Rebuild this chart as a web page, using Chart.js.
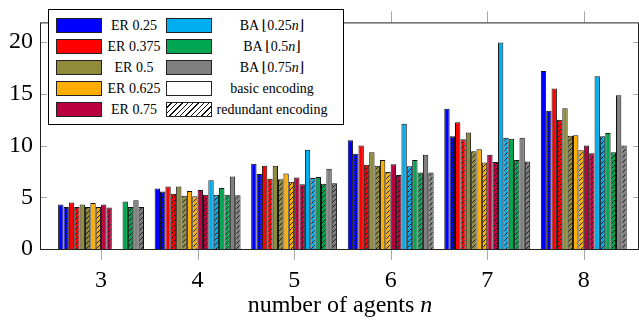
<!DOCTYPE html>
<html>
<head>
<meta charset="utf-8">
<script src="https://cdn.jsdelivr.net/npm/chart.js@4.4.0/dist/chart.umd.min.js"></script>
<style>
  body { margin: 0; background: #fff; }
  #wrap { position: relative; width: 639px; height: 323px; font-family: 'Liberation Serif', 'DejaVu Serif', serif; }
  #legend { position: absolute; left: 48px; top: 9px; width: 296px; height: 116px; box-sizing: border-box;
            border: 1px solid #000; background: #fff; }
  .sw { position: absolute; width: 46px; height: 15px; box-sizing: border-box; border: 1px solid #222; }
  .lab { position: absolute; font-family: 'Liberation Serif', 'DejaVu Serif', serif; font-size: 14px; line-height: 16px;
         white-space: nowrap; transform: translateX(-50%); color: #000; }
  #xtitle { position: absolute; left: 340px; top: 291px; transform: translateX(-50%); font-size: 24px; white-space: nowrap; }
</style>
</head>
<body>
<div id="wrap">
  <canvas id="chart" width="639" height="323"></canvas>
  <div id="legend"></div>
  <div id="xtitle">number of agents <i>n</i></div>
</div>
<script>
// Data
const agents = [3, 4, 5, 6, 7, 8];
const yTicks = [0, 5, 10, 15, 20];

const er025Basic = [4.3, 5.85, 8.25, 10.5, 13.55, 17.2];
const er025Redundant = [4.05, 5.55, 7.25, 9.2, 10.9, 13.35];
const er0375Basic = [4.5, 6.05, 8.05, 10.0, 12.25, 15.5];
const er0375Redundant = [4.05, 5.35, 6.8, 8.15, 10.6, 12.5];
const er05Basic = [4.3, 6.05, 8.05, 9.35, 11.25, 13.6];
const er05Redundant = [4.05, 5.15, 6.75, 8.05, 9.45, 10.95];
const er0625Basic = [4.45, 5.6, 7.3, 8.6, 9.65, 11.0];
const er0625Redundant = [4.05, 5.1, 6.5, 7.45, 8.35, 9.55];
const er075Basic = [4.3, 5.7, 6.9, 8.2, 9.1, 10.0];
const er075Redundant = [4.0, 5.25, 6.25, 7.15, 8.4, 9.25];
const ba025Basic = [null, 6.65, 9.6, 12.1, 19.95, 16.7];
const ba025Redundant = [null, 5.25, 6.85, 8.0, 10.75, 10.9];
const ba05Basic = [4.6, 5.9, 6.95, 8.6, 10.65, 11.2];
const ba05Redundant = [4.05, 5.25, 6.3, 7.4, 8.6, 9.35];
const ba075Basic = [4.7, 7.0, 7.75, 9.1, 10.75, 14.85];
const ba075Redundant = [4.05, 5.2, 6.35, 7.4, 8.45, 10.0];

const series = [
  { label: 'ER 0.25', color: '#0000ff', basic: er025Basic, redundant: er025Redundant },
  { label: 'ER 0.375', color: '#ff0000', basic: er0375Basic, redundant: er0375Redundant },
  { label: 'ER 0.5', color: '#908b3a', basic: er05Basic, redundant: er05Redundant },
  { label: 'ER 0.625', color: '#ffae00', basic: er0625Basic, redundant: er0625Redundant },
  { label: 'ER 0.75', color: '#bb003f', basic: er075Basic, redundant: er075Redundant },
  { label: 'BA ⌊0.25<i>n</i>⌋', color: '#00aeef', basic: ba025Basic, redundant: ba025Redundant },
  { label: 'BA ⌊0.5<i>n</i>⌋', color: '#00a651', basic: ba05Basic, redundant: ba05Redundant },
  { label: 'BA ⌊0.75<i>n</i>⌋', color: '#808080', basic: ba075Basic, redundant: ba075Redundant }
];

// diagonal "north east lines" fill
function makeHatch(color) {
  const s = 5;
  const c = document.createElement('canvas');
  c.width = s; c.height = s;
  const g = c.getContext('2d');
  g.fillStyle = color;
  g.fillRect(0, 0, s, s);
  g.strokeStyle = '#111';
  g.lineWidth = 0.9;
  g.beginPath();
  g.moveTo(-1, s + 1); g.lineTo(s + 1, -1);
  g.moveTo(-1, 1); g.lineTo(1, -1);
  g.moveTo(s - 1, s + 1); g.lineTo(s + 1, s - 1);
  g.stroke();
  return g.createPattern(c, 'repeat');
}

function toPoints(values) {
  return values.map((v, i) => ({ x: agents[i], y: v }));
}

const datasets = [];
series.forEach(s => {
  datasets.push({ data: toPoints(s.basic), backgroundColor: s.color });
  datasets.push({ data: toPoints(s.redundant), backgroundColor: makeHatch(s.color) });
});
datasets.forEach(d => { d.borderColor = '#111'; d.borderWidth = 1; });

// frame with pgfplots-like tick marks
const frameTicks = {
  id: 'frameTicks',
  afterDatasetsDraw(chart) {
    const { ctx, chartArea: a, scales: { x, y } } = chart;
    ctx.save();
    ctx.lineWidth = 1;
    ctx.strokeStyle = '#a8a8a8';
    ctx.beginPath();
    yTicks.forEach(t => {
      const py = Math.round(y.getPixelForValue(t)) + 0.5;
      ctx.moveTo(a.left, py); ctx.lineTo(a.left + 6, py);
      ctx.moveTo(a.right - 6, py); ctx.lineTo(a.right, py);
    });
    agents.forEach(t => {
      const px = Math.round(x.getPixelForValue(t)) + 0.5;
      ctx.moveTo(px, a.bottom); ctx.lineTo(px, a.bottom + 11);
      ctx.moveTo(px, a.top - 11); ctx.lineTo(px, a.top);
    });
    ctx.stroke();
    ctx.strokeStyle = '#222';
    ctx.strokeRect(a.left - 0.5, a.top + 0.5, a.right - a.left, a.bottom - a.top);
    ctx.restore();
  }
};

new Chart(document.getElementById('chart'), {
  type: 'bar',
  data: { datasets },
  options: {
    responsive: false,
    animation: false,
    layout: { padding: { top: 8, right: 0, left: 0, bottom: 0 } },
    datasets: { bar: { categoryPercentage: 0.89, barPercentage: 1 } },
    plugins: { legend: { display: false }, tooltip: { enabled: false } },
    scales: {
      x: {
        type: 'linear',
        offset: false,
        min: 2.378,
        max: 8.572,
        afterFit: sc => { sc.height = 74; },
        afterBuildTicks: sc => { sc.ticks = agents.map(v => ({ value: v })); },
        grid: { display: false, drawTicks: false },
        border: { display: false },
        ticks: { padding: 17, color: '#000', font: { family: 'Liberation Serif', size: 24 } }
      },
      y: {
        min: 0,
        max: 21.9,
        afterFit: sc => { sc.width = 41; },
        afterBuildTicks: sc => { sc.ticks = yTicks.map(v => ({ value: v })); },
        grid: { display: false, drawTicks: false },
        border: { display: false },
        ticks: { padding: 8, color: '#000', font: { family: 'Liberation Serif', size: 24 } }
      }
    }
  },
  plugins: [frameTicks]
});

// legend, two columns
const legend = document.getElementById('legend');
const legendItems = series.map(s => ({ label: s.label, bg: s.color }));
legendItems.push({ label: 'basic encoding', bg: '#fff' });
legendItems.push({ label: 'redundant encoding', bg: 'repeating-linear-gradient(135deg, #fff 0 2.8px, #111 2.8px 3.8px)' });
legendItems.forEach((it, i) => {
  const col = i < 5 ? 0 : 1;
  const row = i < 5 ? i : i - 5;
  const cy = 16 + row * 20.9;
  const sw = document.createElement('div');
  sw.className = 'sw';
  sw.style.left = (col ? 117 : 7) + 'px';
  sw.style.top = (cy - 8) + 'px';
  sw.style.background = it.bg;
  legend.appendChild(sw);
  const lab = document.createElement('div');
  lab.className = 'lab';
  lab.style.left = (col ? 223 : 85) + 'px';
  lab.style.top = (cy - 8) + 'px';
  lab.innerHTML = it.label;
  legend.appendChild(lab);
});
</script>
</body>
</html>
